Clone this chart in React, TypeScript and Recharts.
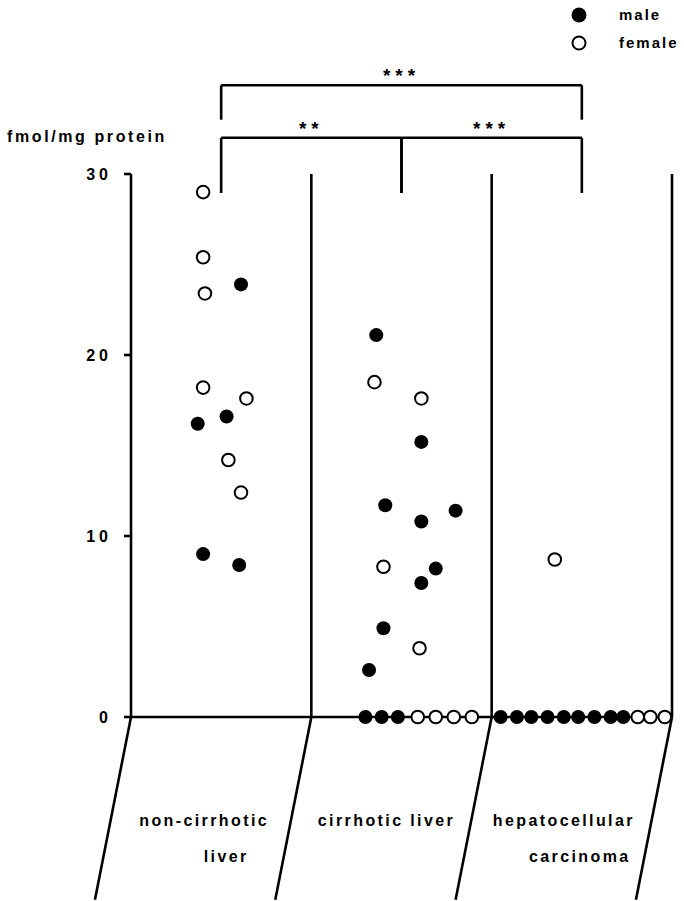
import { ScatterChart, Scatter, XAxis, YAxis, ReferenceLine } from 'recharts';

const FONT = '"Liberation Sans", Arial, Helvetica, sans-serif';

// one lane per tissue on the x axis (lane i spans i..i+1)
const groupLabels = [['non-cirrhotic', 'liver'], ['cirrhotic liver'], ['hepatocellular', 'carcinoma']];

// [position inside the lane 0..1, fmol/mg protein]
const nonCirrhoticMale = [[0.61, 23.9], [0.37, 16.2], [0.53, 16.6], [0.4, 9.0], [0.6, 8.4]];
const nonCirrhoticFemale = [[0.4, 29.0], [0.4, 25.4], [0.41, 23.4], [0.4, 18.2], [0.64, 17.6], [0.54, 14.2], [0.61, 12.4]];
const cirrhoticMale = [[0.36, 21.1], [0.61, 15.2], [0.41, 11.7], [0.61, 10.8], [0.8, 11.4], [0.69, 8.2], [0.61, 7.4], [0.4, 4.9], [0.32, 2.6], [0.3, 0], [0.39, 0], [0.48, 0]];
const cirrhoticFemale = [[0.35, 18.5], [0.61, 17.6], [0.4, 8.3], [0.6, 3.8], [0.59, 0], [0.69, 0], [0.79, 0], [0.89, 0]];
const hccMale = [[0.05, 0], [0.14, 0], [0.22, 0], [0.31, 0], [0.4, 0], [0.48, 0], [0.57, 0], [0.66, 0], [0.73, 0]];
const hccFemale = [[0.35, 8.7], [0.81, 0], [0.88, 0], [0.96, 0]];

const yTicks = [0, 10, 20, 30];

// significance brackets between lanes (lane index, bracket level, leg end)
const brackets = [
  { from: 0, to: 2, y: 34.9, legTo: 33.0, stars: '***' },
  { from: 0, to: 1, y: 32.0, legTo: 28.95, stars: '**' },
  { from: 1, to: 2, y: 32.0, legTo: 28.95, stars: '***' },
];

const lanes = [
  [nonCirrhoticMale, nonCirrhoticFemale],
  [cirrhoticMale, cirrhoticFemale],
  [hccMale, hccFemale],
];

const toPoints = (sex: number) =>
  lanes.flatMap((lane, i) => lane[sex].map(([p, v]) => ({ x: i + p, y: v })));

const line = { stroke: '#000', strokeWidth: 2.6 };
const textStyle = { fontFamily: FONT, fontWeight: 700, fill: '#000' };

const Filled = (p: any) => <circle cx={p.cx} cy={p.cy} r={7} fill="#000" />;
const Open = (p: any) => (
  <circle cx={p.cx} cy={p.cy} r={6.3} fill="#fff" stroke="#000" strokeWidth={2} />
);

// label lines sit under the slanted lane, so nudge them left a bit
const labelDx = [[-17, 5], [-15], [-18, -2]];
const labelDy = [109, 145];

const GroupTick = (props: any) => {
  const i = Math.floor(props.payload.value);
  return (
    <g>
      {groupLabels[i].map((t, k) => (
        <text
          key={t}
          x={props.x + labelDx[i][k]}
          y={props.y + labelDy[k]}
          textAnchor="middle"
          fontSize={16}
          letterSpacing={2.4}
          {...textStyle}
        >
          {t}
        </text>
      ))}
    </g>
  );
};

export default function App() {
  const male = toPoints(0);
  const female = toPoints(1);
  const dividers = [0, 1, 2, 3];

  return (
    <div style={{ position: 'absolute', left: 0, top: 0, width: 684, height: 901, background: '#fff' }}>
      <ScatterChart width={684} height={901} margin={{ top: 174, right: 12, bottom: 183, left: 71 }}>
        <XAxis
          type="number"
          dataKey="x"
          domain={[0, 3]}
          ticks={[0.5, 1.5, 2.5]}
          tick={(p: any) => <GroupTick {...p} />}
          tickLine={false}
          tickSize={0}
          tickMargin={0}
          height={1}
          axisLine={line}
          allowDataOverflow
        />
        <YAxis
          type="number"
          dataKey="y"
          domain={[0, 30]}
          ticks={yTicks}
          width={60}
          tickSize={7}
          tickMargin={12}
          axisLine={line}
          tickLine={line}
          tick={{ fontSize: 16, letterSpacing: 4, ...textStyle }}
          label={() => (
            <text x={7} y={142} fontSize={16} letterSpacing={2.6} {...textStyle}>
              fmol/mg protein
            </text>
          )}
        />

        {dividers.slice(1).map((d) => (
          <ReferenceLine key={`v${d}`} x={d} {...line} />
        ))}
        {dividers.map((d) => (
          <ReferenceLine
            key={`s${d}`}
            segment={[{ x: d, y: 0 }, { x: d - 0.2, y: -10.1 }]}
            ifOverflow="visible"
            {...line}
          />
        ))}

        {brackets.map((b, i) => (
          <ReferenceLine
            key={`b${i}`}
            segment={[{ x: b.from + 0.5, y: b.y }, { x: b.to + 0.5, y: b.y }]}
            ifOverflow="visible"
            {...line}
            label={{ value: b.stars, position: 'top', offset: 3, fontSize: 19, letterSpacing: 5, ...textStyle }}
          />
        ))}
        {brackets.flatMap((b, i) =>
          [b.from, b.to].map((g) => (
            <ReferenceLine
              key={`l${i}-${g}`}
              segment={[{ x: g + 0.5, y: b.y }, { x: g + 0.5, y: b.legTo }]}
              ifOverflow="visible"
              {...line}
            />
          ))
        )}

        <Scatter name="male" data={male} shape={Filled} isAnimationActive={false} />
        <Scatter name="female" data={female} shape={Open} isAnimationActive={false} />
      </ScatterChart>

      {/* legend, top right */}
      <svg style={{ position: 'absolute', left: 560, top: 0 }} width={124} height={60}>
        <circle cx={19} cy={15} r={7.5} fill="#000" />
        <text x={59} y={20} fontSize={15} letterSpacing={2} {...textStyle}>
          male
        </text>
        <circle cx={19} cy={43} r={6.5} fill="#fff" stroke="#000" strokeWidth={2} />
        <text x={59} y={48} fontSize={15} letterSpacing={2} {...textStyle}>
          female
        </text>
      </svg>
    </div>
  );
}
